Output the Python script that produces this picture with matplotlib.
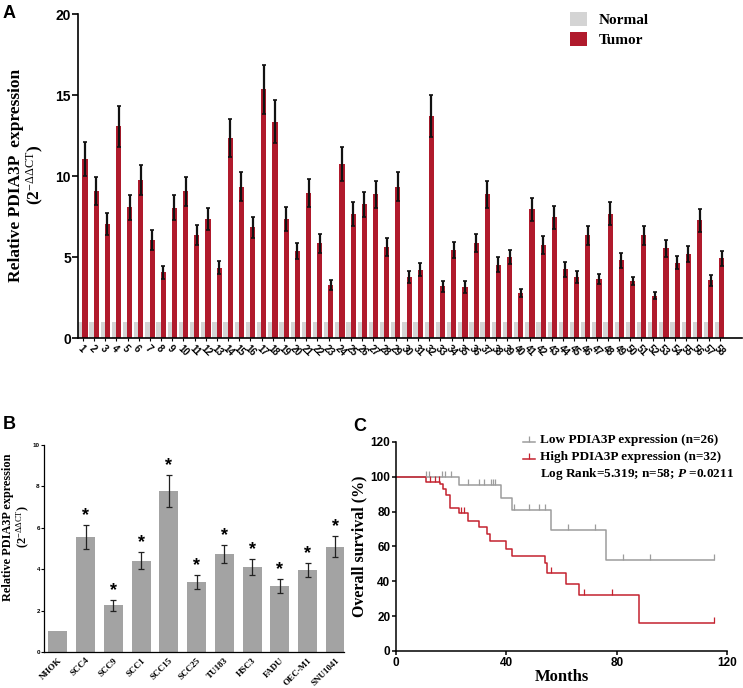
import numpy as np
import matplotlib
matplotlib.use("Agg")
import matplotlib.pyplot as plt

plt.rcParams["mathtext.fontset"] = "custom"
plt.rcParams["mathtext.rm"] = "Liberation Serif"
plt.rcParams["mathtext.it"] = "Liberation Serif:italic:bold"
plt.rcParams["mathtext.bf"] = "Liberation Serif:bold"

SERIF = "Liberation Serif"
SANS = "Liberation Sans"
RED = "#b01a2c"
LIGHT = "#d4d4d4"
MID = "#a3a3a3"

# panel A: tumour vs normal tissue, 58 patients
samples = [str(i) for i in range(1, 59)]
tumor_vals = [11.08, 9.06, 7.06, 13.06, 8.07, 9.75, 6.05, 4.05, 8.05, 9.05,
              6.35, 7.35, 4.35, 12.35, 9.33, 6.84, 15.35, 13.35, 7.35, 5.36,
              8.96, 5.85, 3.25, 10.75, 7.66, 8.26, 8.86, 5.64, 9.35, 3.75,
              4.22, 13.70, 3.19, 5.42, 3.15, 5.87, 8.86, 4.53, 5.00, 2.78,
              7.95, 5.75, 7.46, 4.24, 3.77, 6.34, 3.67, 7.68, 4.80, 3.52,
              6.34, 2.60, 5.54, 4.65, 5.19, 7.27, 3.56, 4.92]
tumor_err = [1.05, 0.87, 0.68, 1.28, 0.78, 0.95, 0.60, 0.40, 0.78, 0.87,
             0.60, 0.70, 0.42, 1.20, 0.90, 0.66, 1.50, 1.34, 0.72, 0.51,
             0.86, 0.58, 0.31, 1.07, 0.74, 0.78, 0.86, 0.56, 0.91, 0.37,
             0.39, 1.32, 0.35, 0.51, 0.37, 0.56, 0.82, 0.45, 0.46, 0.27,
             0.70, 0.57, 0.72, 0.46, 0.35, 0.60, 0.31, 0.72, 0.45, 0.27,
             0.60, 0.22, 0.54, 0.42, 0.52, 0.70, 0.35, 0.46]
# every normal sample sits at the reference level
normal_vals = [1.0] * 58

# panel B: cell lines
cell_lines = ["NHOK", "SCC4", "SCC9", "SCC1", "SCC15", "SCC25", "TU183",
              "HSC3", "FADU", "OEC-M1", "SNU1041"]
cell_vals = [1.02, 5.54, 2.26, 4.41, 7.79, 3.38, 4.72, 4.09, 3.20, 3.96, 5.09]
cell_err = [0.0, 0.58, 0.27, 0.42, 0.77, 0.35, 0.44, 0.39, 0.34, 0.32, 0.52]
cell_sig = [False, True, True, True, True, True, True, True, True, True, True]

# panel C: Kaplan-Meier curves
low_t = [0, 23.0, 38.1, 42.1, 56.1, 76.2, 115.4]
low_s = [100, 95.2, 88.1, 80.8, 69.3, 52.0, 52.0]
low_cens = [10.9, 11.9, 16.6, 17.8, 20.0, 26.0, 30.0, 31.8, 34.5, 35.1, 35.8,
            42.6, 48.3, 52.0, 54.1, 62.2, 72.2, 82.3, 92.2, 115.4]
high_t = [0, 10.9, 16.1, 16.9, 18.1, 19.7, 23.0, 26.0, 30.2, 32.9, 34.2, 39.9,
          42.0, 54.1, 54.7, 61.7, 66.2, 88.2, 115.4]
high_s = [100, 97.0, 95.6, 93.1, 89.6, 82.3, 79.1, 74.8, 71.0, 67.0, 63.1,
          58.3, 54.8, 50.5, 44.9, 38.4, 32.0, 16.2, 16.2]
high_cens = [12.3, 14.0, 15.6, 23.6, 24.5, 56.1, 68.0, 78.3, 115.4]


def style_axes(ax, lw=1.2):
    for side in ("top", "right"):
        ax.spines[side].set_visible(False)
    for side in ("left", "bottom"):
        ax.spines[side].set_linewidth(lw)


def surv_at(times, surv, t):
    i = np.searchsorted(times, t, side="right") - 1
    return surv[i]


def panel_a(fig):
    ax = fig.add_axes([0.105, 0.5087, 0.8937, 0.4709])
    x = np.arange(len(samples))
    ax.bar(x - 0.2, normal_vals, width=0.42, color=LIGHT, label="Normal")
    ax.bar(x + 0.2, tumor_vals, width=0.46, color=RED, label="Tumor")
    ax.errorbar(x + 0.2, tumor_vals, yerr=tumor_err, fmt="none", ecolor="#111111",
                elinewidth=1.6, capsize=1.4, capthick=1.2)
    ax.set_xlim(-0.43, 59.0)
    ax.set_ylim(0, 20)
    ax.set_yticks([0, 5, 10, 15, 20])
    ax.set_xticks(x)
    ax.set_xticklabels(samples, rotation=-45, ha="left", va="top",
                       rotation_mode="anchor", fontsize=7, fontweight="bold",
                       family=SANS)
    for lab in ax.get_yticklabels():
        lab.set_fontweight("bold")
        lab.set_family(SANS)
        lab.set_fontsize(10)
    ax.tick_params(axis="x", length=2.5, width=0.8, pad=1.5)
    ax.tick_params(axis="y", length=4, width=1.2, pad=1)
    style_axes(ax)
    ax.legend(loc="upper left", bbox_to_anchor=(0.72, 1.05), frameon=False,
              prop={"family": SERIF, "weight": "bold", "size": 11},
              handlelength=1.1, handleheight=1.1, handletextpad=0.8,
              labelspacing=0.3)
    fig.text(27 / 743, 0.745,
             "Relative PDIA3P  expression\n(2$^{-\\Delta\\Delta \\mathrm{CT}}$)",
             rotation=90, ha="center", va="center", multialignment="center",
             family=SERIF, fontweight="bold", fontsize=12.5, linespacing=1.0)
    fig.text(0.004, 0.993, "A", family=SANS, fontweight="bold", fontsize=13,
             ha="left", va="top")


def panel_b(fig):
    ax = fig.add_axes([0.0592, 0.0523, 0.4038, 0.3009])
    x = np.arange(len(cell_lines))
    ax.bar(x, cell_vals, width=0.69, color=MID)
    ax.errorbar(x[1:], cell_vals[1:], yerr=cell_err[1:], fmt="none", ecolor="#222222",
                elinewidth=0.9, capsize=2.2, capthick=0.9)
    for xi, v, e, s in zip(x, cell_vals, cell_err, cell_sig):
        if s:
            ax.text(xi, v + e + 0.05, "*", ha="center", va="bottom", fontsize=13,
                    fontweight="bold", family=SANS)
    ax.set_xlim(-0.5, 10.31)
    ax.set_ylim(0, 10)
    ax.set_yticks([0, 2, 4, 6, 8, 10])
    ax.set_xticks(x)
    ax.set_xticklabels(cell_lines, rotation=45, ha="right", va="top",
                       rotation_mode="anchor", fontsize=6.5, fontweight="bold",
                       family=SERIF)
    for lab in ax.get_yticklabels():
        lab.set_fontweight("bold")
        lab.set_family(SANS)
        lab.set_fontsize(4.5)
    ax.tick_params(axis="x", length=0, pad=3)
    ax.tick_params(axis="y", length=2, width=0.8, pad=1)
    style_axes(ax, lw=0.9)
    fig.text(17 / 743, 0.234,
             "Relative PDIA3P expression\n(2$^{-\\Delta\\Delta \\mathrm{CT}}$)",
             rotation=90, ha="center", va="center", multialignment="center",
             family=SERIF, fontweight="bold", fontsize=8.8, linespacing=1.0)
    fig.text(0.004, 1 - 416 / 688, "B", family=SANS, fontweight="bold", fontsize=13,
             ha="left", va="top")


def panel_c(fig):
    ax = fig.add_axes([0.533, 0.0538, 0.4455, 0.3038])
    grey = "#9c9c9c"
    red = "#c4222f"
    ax.step(low_t, low_s, where="post", color=grey, lw=1.1)
    ax.step(high_t, high_s, where="post", color=red, lw=1.1)
    ax.plot(low_cens, [surv_at(low_t, low_s, t) for t in low_cens], ls="none",
            marker=2, ms=4, mew=0.9, color=grey)
    ax.plot(high_cens, [surv_at(high_t, high_s, t) for t in high_cens], ls="none",
            marker=2, ms=4, mew=0.9, color=red)
    ax.set_xlim(0, 120)
    ax.set_ylim(0, 120)
    ax.set_xticks([0, 40, 80, 120])
    ax.set_yticks([0, 20, 40, 60, 80, 100, 120])
    for lab in ax.get_xticklabels() + ax.get_yticklabels():
        lab.set_fontweight("bold")
        lab.set_family(SANS)
        lab.set_fontsize(8.5)
    ax.tick_params(length=3, width=1.1, pad=1)
    style_axes(ax, lw=1.1)
    ax.set_xlabel("Months", family=SERIF, fontweight="bold", fontsize=12, labelpad=0)
    ax.set_ylabel("Overall survival (%)", family=SERIF, fontweight="bold",
                  fontsize=11.5, labelpad=2)

    # legend, drawn by hand
    rows = [(1.008, grey, "Low PDIA3P expression (n=26)"),
            (0.930, red, "High PDIA3P expression (n=32)")]
    for y, col, txt in rows:
        ax.plot([0.383, 0.42], [y - 0.01, y - 0.01], transform=ax.transAxes,
                color=col, lw=1.1, clip_on=False)
        ax.plot([0.4015], [y - 0.01], transform=ax.transAxes, color=col,
                marker=2, ms=4, mew=0.9, clip_on=False)
        ax.text(0.435, y, txt, transform=ax.transAxes, family=SERIF,
                fontweight="bold", fontsize=9.5, va="center", ha="left")
    ax.text(0.435, 0.848, "Log Rank=5.319; n=58; $\\mathit{P}$ =0.0211",
            transform=ax.transAxes, family=SERIF, fontweight="bold", fontsize=9.5,
            va="center", ha="left")
    fig.text(353 / 743, 1 - 418 / 688, "C", family=SANS, fontweight="bold",
             fontsize=13, ha="left", va="top")


def main():
    fig = plt.figure(figsize=(7.43, 6.88), dpi=100)
    panel_a(fig)
    panel_b(fig)
    panel_c(fig)
    fig.savefig("out.png", dpi=100)


if __name__ == "__main__":
    main()
